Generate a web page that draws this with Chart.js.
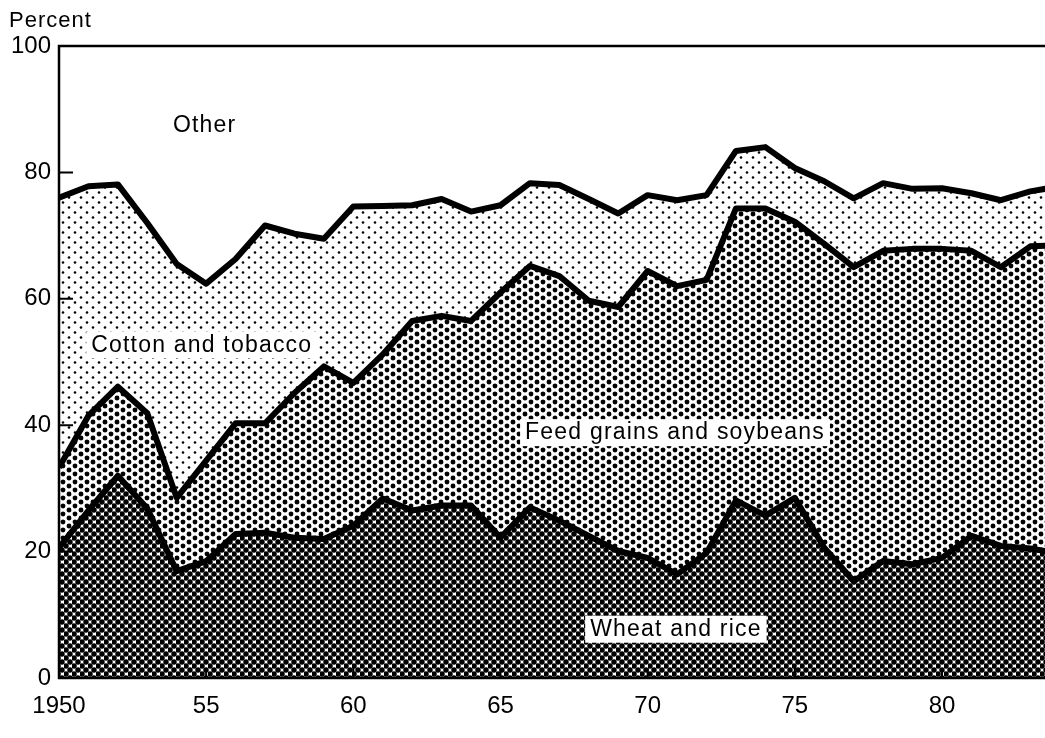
<!DOCTYPE html>
<html>
<head>
<meta charset="utf-8">
<script src="https://cdn.jsdelivr.net/npm/chart.js@4.4.1/dist/chart.umd.min.js"></script>
<style>
  body { margin: 0; background: #fff; }
  canvas { display: block; }
</style>
</head>
<body>
<canvas id="chart" width="1045" height="738"></canvas>
<script>
// shares of total, percent
const years = [1950, 1951, 1952, 1953, 1954, 1955, 1956, 1957, 1958, 1959,
  1960, 1961, 1962, 1963, 1964, 1965, 1966, 1967, 1968, 1969,
  1970, 1971, 1972, 1973, 1974, 1975, 1976, 1977, 1978, 1979,
  1980, 1981, 1982, 1983, 1984];
const wheatRice = [20.6, 26.5, 32.0, 26.8, 16.9, 18.5, 22.8, 23.0, 22.2, 22.0,
  24.1, 28.4, 26.5, 27.3, 27.3, 22.2, 27.0, 24.9, 22.5, 20.1,
  19.0, 16.4, 19.8, 28.1, 25.7, 28.5, 20.6, 15.3, 18.5, 18.0,
  19.0, 22.5, 20.9, 20.5, 19.7];
const feedGrainsSoy = [12.7, 15.0, 14.1, 15.1, 11.6, 15.9, 17.5, 17.3, 22.9, 27.3,
  22.6, 22.8, 30.0, 30.0, 29.2, 38.8, 38.2, 38.7, 37.2, 38.6,
  45.4, 45.6, 43.2, 46.2, 48.6, 43.7, 48.1, 49.7, 49.1, 49.9,
  48.9, 45.1, 44.1, 47.8, 48.8];
const cottonTobacco = [42.7, 36.3, 32.0, 30.1, 37.0, 28.0, 26.0, 31.3, 25.2, 20.2,
  27.9, 23.5, 18.3, 18.5, 17.3, 13.8, 13.1, 14.4, 16.1, 14.8,
  12.0, 13.6, 13.4, 9.1, 9.7, 8.5, 9.9, 10.9, 10.7, 9.5,
  9.6, 9.1, 10.6, 8.7, 9.3];
const other = [24.0, 22.2, 21.9, 28.0, 34.5, 37.6, 33.7, 28.4, 29.7, 30.5,
  25.4, 25.3, 25.2, 24.2, 26.2, 25.2, 21.7, 22.0, 24.2, 26.5,
  23.6, 24.4, 23.6, 16.6, 16.0, 19.3, 21.4, 24.1, 21.7, 22.6,
  22.5, 23.3, 24.4, 23.0, 22.2];

const xTicks = [1950, 1955, 1960, 1965, 1970, 1975, 1980];
const xTickLabels = ['1950', '55', '60', '65', '70', '75', '80'];
const yTicks = [0, 20, 40, 60, 80, 100];

const seriesLabels = ['Wheat and rice', 'Feed grains and soybeans', 'Cotton and tobacco', 'Other'];
const FONT = '"Liberation Sans", Arial, Helvetica, sans-serif';

// little dot tiles to mimic the printed screens
function dotPattern(w, h, r, dots) {
  const c = document.createElement('canvas');
  c.width = w; c.height = h;
  const g = c.getContext('2d');
  g.fillStyle = '#fff';
  g.fillRect(0, 0, w, h);
  g.fillStyle = '#000';
  dots.forEach(([x, y]) => {
    g.beginPath();
    g.arc(x, y, r, 0, Math.PI * 2);
    g.fill();
  });
  return g.createPattern(c, 'repeat');
}

const wheatFill = dotPattern(8, 8, 2.75, [[2, 2], [6, 6], [10, 6], [-2, 6], [6, -2], [6, 10], [2, 10], [10, 10], [-2, -2], [10, -2], [-2, 10]]);
const feedFill = dotPattern(12, 8, 2.4, [[3, 2], [9, 6], [-3, 6], [15, 6], [9, -2], [9, 10], [3, 10], [-3, -2], [15, -2]]);
const cottonFill = dotPattern(12, 10, 1.3, [[3, 2.5], [9, 7.5]]);

const toPoints = arr => arr.map((v, i) => ({ x: years[i], y: v }));

const frame = {
  id: 'frame',
  afterDatasetsDraw(chart) {
    const { ctx, chartArea: a, scales } = chart;
    ctx.save();
    ctx.strokeStyle = '#000';
    ctx.lineWidth = 2.5;
    ctx.beginPath();
    ctx.moveTo(a.right, a.top);
    ctx.lineTo(a.left, a.top);
    ctx.lineTo(a.left, a.bottom);
    ctx.lineTo(a.right, a.bottom);
    ctx.stroke();
    // inward tick marks
    ctx.lineWidth = 2;
    ctx.beginPath();
    [20, 40, 60, 80].forEach(v => {
      const y = scales.y.getPixelForValue(v);
      ctx.moveTo(a.left, y);
      ctx.lineTo(a.left + 14, y);
    });
    xTicks.slice(1).forEach(v => {
      const x = scales.x.getPixelForValue(v);
      ctx.moveTo(x, a.bottom);
      ctx.lineTo(x, a.bottom - 10);
    });
    ctx.stroke();
    ctx.restore();
  }
};

// area names, placed in data units
const areaLabels = [
  { text: 'Other', x: 1954.95, y: 87.6, box: false },
  { text: 'Cotton and tobacco', x: 1954.85, y: 52.8, box: true },
  { text: 'Feed grains and soybeans', x: 1970.93, y: 38.9, box: true },
  { text: 'Wheat and rice', x: 1970.96, y: 7.8, box: true }
];

const labelsPlugin = {
  id: 'areaLabels',
  afterDraw(chart) {
    const { ctx, scales } = chart;
    ctx.save();
    ctx.font = '23px ' + FONT;
    ctx.letterSpacing = '1.2px';
    ctx.textAlign = 'center';
    ctx.textBaseline = 'middle';
    areaLabels.forEach(l => {
      const x = scales.x.getPixelForValue(l.x);
      const y = scales.y.getPixelForValue(l.y);
      const w = ctx.measureText(l.text).width;
      if (l.box) {
        ctx.fillStyle = '#fff';
        ctx.fillRect(x - w / 2 - 5, y - 13, w + 10, 27);
      }
      ctx.fillStyle = '#000';
      ctx.fillText(l.text, x, y + 1);
    });
    ctx.font = '22px ' + FONT;
    ctx.letterSpacing = '1px';
    ctx.textAlign = 'left';
    ctx.fillText('Percent', 9, 21);
    ctx.restore();
  }
};

new Chart(document.getElementById('chart'), {
  type: 'line',
  data: {
    datasets: [
      { label: seriesLabels[0], data: toPoints(wheatRice), fill: 'origin', backgroundColor: wheatFill, borderColor: '#000', borderWidth: 6 },
      { label: seriesLabels[1], data: toPoints(feedGrainsSoy), fill: '-1', backgroundColor: feedFill, borderColor: '#000', borderWidth: 6 },
      { label: seriesLabels[2], data: toPoints(cottonTobacco), fill: '-1', backgroundColor: cottonFill, borderColor: '#000', borderWidth: 6 },
      { label: seriesLabels[3], data: toPoints(other), fill: '-1', backgroundColor: '#fff', borderWidth: 0 }
    ]
  },
  options: {
    responsive: false,
    animation: false,
    devicePixelRatio: 1,
    layout: { padding: { top: 46, right: 0, left: 0, bottom: 0 } },
    elements: {
      line: { tension: 0, borderJoinStyle: 'round', borderCapStyle: 'butt' },
      point: { radius: 0, hoverRadius: 0 }
    },
    plugins: {
      legend: { display: false },
      tooltip: { enabled: false }
    },
    scales: {
      x: {
        type: 'linear',
        min: 1950,
        max: 1983.5,
        afterFit: s => { s.height = 60; },
        afterBuildTicks: s => { s.ticks = xTicks.map(v => ({ value: v })); },
        grid: { display: false, drawTicks: false },
        border: { display: false },
        ticks: {
          padding: 14,
          color: '#000',
          font: { family: FONT, size: 24 },
          maxRotation: 0,
          autoSkip: false,
          callback: v => xTickLabels[xTicks.indexOf(v)]
        }
      },
      y: {
        stacked: true,
        min: 0,
        max: 100,
        afterFit: s => { s.width = 59; },
        afterBuildTicks: s => { s.ticks = yTicks.map(v => ({ value: v })); },
        grid: { display: false, drawTicks: false },
        border: { display: false },
        ticks: {
          padding: 8,
          color: '#000',
          font: { family: FONT, size: 24 }
        }
      }
    }
  },
  plugins: [frame, labelsPlugin]
});
</script>
</body>
</html>
